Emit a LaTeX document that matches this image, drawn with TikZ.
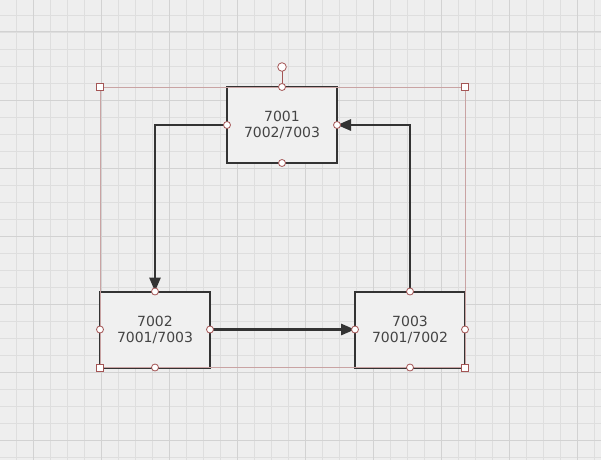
\documentclass[tikz,border=0pt]{standalone}
\usepackage{fontspec}
\setmainfont{DejaVu Sans}
\usetikzlibrary{arrows.meta,calc}
\definecolor{bgc}{HTML}{EEEEEE}
\definecolor{minorc}{HTML}{DEDEDE}
\definecolor{majorc}{HTML}{D2D2D2}
\definecolor{boxc}{HTML}{F0F0F0}
\definecolor{inkc}{HTML}{333333}
\definecolor{txtc}{HTML}{444444}
\definecolor{selc}{HTML}{C9A3A3}
\definecolor{hdlc}{HTML}{A45555}
\tikzset{
  minorline/.style={draw=minorc, line width=0.8pt},
  majorline/.style={draw=majorc, line width=1pt},
  stepbox/.style={draw=inkc, line width=2pt, fill=boxc, minimum width=110pt, minimum height=76pt,
    inner sep=0pt, outer sep=0pt, align=center, text=txtc,
    font=\fontsize{14pt}{16pt}\selectfont},
  conn/.style={draw=inkc, line width=2.8pt, -{Triangle[length=14pt,width=11pt]}},
  selrect/.style={draw=selc, line width=0.8pt},
  hdl/.style={draw=hdlc, fill=white, line width=0.8pt},
}
\begin{document}
\begin{tikzpicture}[x=1pt,y=-1pt]
\useasboundingbox (0,0) rectangle (601,460);
\fill[bgc] (0,0) rectangle (601,460);
\begin{scope}
\clip (0,0) rectangle (601,460);
\foreach \k in {0,...,35} \draw[minorline] ({16+17*\k},0) -- ++(0,460);
\foreach \k in {0,...,27} \draw[minorline] (0,{15+17*\k}) -- ++(601,0);
\foreach \k in {0,...,8} \draw[majorline] ({33+68*\k},0) -- ++(0,460);
\foreach \k in {0,...,6} \draw[majorline] (0,{32+68*\k}) -- ++(601,0);
\end{scope}

\node[stepbox] (n1) at (282,125) {7001\\7002/7003};
\node[stepbox] (n2) at (155,329.5) {7002\\7001/7003};
\node[stepbox] (n3) at (410,329.5) {7003\\7001/7002};

\draw[conn] (n1.west) -| (n2.north);
\draw[conn] (n2.east) -- (n3.west);
\draw[conn] (n3.north) |- (n1.east);

% selection frame
\draw[selrect] (n2.west |- n1.north) rectangle (n3.south east);
\coordinate (rot) at ($(n1.north)+(0,-20)$);
\draw[hdlc, line width=0.8pt] (n1.north) -- (rot);
\draw[hdl] (rot) circle (4.3pt);
\foreach \c in {n2.west |- n1.north, n3.east |- n1.north, n2.south west, n3.south east}
  \draw[hdl] ($(\c)+(-3.5,-3.5)$) rectangle ++(7,7);
\foreach \n in {n1,n2,n3}
  \foreach \a in {north,south,east,west}
    \draw[hdl] (\n.\a) circle (3.5pt);
\end{tikzpicture}
\end{document}
